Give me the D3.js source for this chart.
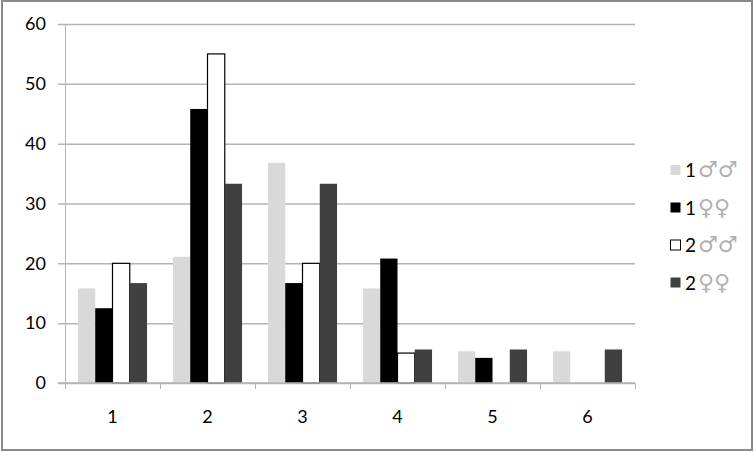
<!DOCTYPE html>
<html>
<head>
<meta charset="utf-8">
<script src="https://cdn.jsdelivr.net/npm/d3@7"></script>
<style>
  body { margin: 0; background: #fff; }
  text { font-family: Lato, "Open Sans", sans-serif; }
</style>
</head>
<body>
<div class="chart"></div>
<script>
// bar chart, 6 classes x 4 groups (percent)
var width = 754;
var height = 452;

var categories = ["1", "2", "3", "4", "5", "6"];
var seriesNames = ["1", "1", "2", "2"];
var seriesSymbols = ["\u2642\u2642", "\u2640\u2640", "\u2642\u2642", "\u2640\u2640"];
var seriesColors = ["#d9d9d9", "#000000", "#ffffff", "#404040"];

var s1Males = [15.8, 21.1, 36.8, 15.8, 5.3, 5.3];
var s1Females = [12.5, 45.8, 16.7, 20.8, 4.2, 0];
var s2Males = [20, 55, 20, 5, 0, 0];
var s2Females = [16.7, 33.3, 33.3, 5.6, 5.6, 5.6];
var yTicks = [0, 10, 20, 30, 40, 50, 60];

var series = [s1Males, s1Females, s2Males, s2Females];

var plotLeft = 65, plotRight = 635, plotTop = 24, plotBottom = 383;

var svg = d3.select(".chart")
    .append("svg")
    .attr("width", width)
    .attr("height", height);

// outer frame
svg.append("rect")
    .attr("x", 2)
    .attr("y", 1)
    .attr("width", 750)
    .attr("height", 449)
    .style("fill", "none")
    .style("stroke", "#8a8a8a")
    .style("stroke-width", 2);

var x = d3.scaleBand()
    .domain(categories)
    .range([plotLeft, plotRight]);

// gap width 150% like excel
var barW = x.bandwidth() / (series.length + 1.5);
var gap = (x.bandwidth() - barW * series.length) / 2;

var y = d3.scaleLinear()
    .domain([0, 60])
    .range([plotBottom, plotTop]);

// gridlines + y axis
var yAxis = d3.axisLeft(y)
    .tickValues(yTicks)
    .tickSize(-(plotRight - plotLeft))
    .tickSizeOuter(0)
    .tickPadding(19);

var gy = svg.append("g")
    .attr("transform", "translate(" + plotLeft + ",0)")
    .call(yAxis);
gy.select(".domain").remove();
gy.selectAll(".tick line")
    .attr("x1", -7)
    .style("stroke", "#b4b4b4")
    .style("stroke-width", 1.5);
gy.selectAll(".tick text")
    .style("font-size", "18px")
    .style("fill", "#000");

svg.append("line")
    .attr("x1", plotLeft + 0.5).attr("x2", plotLeft + 0.5)
    .attr("y1", plotTop).attr("y2", plotBottom)
    .style("stroke", "#b4b4b4")
    .style("stroke-width", 1);

// bars
series.forEach(function (vals, si) {
    var rows = [];
    for (var i = 0; i < vals.length; i++) {
        if (vals[i] > 0) rows.push({ cat: categories[i], value: vals[i] });
    }
    svg.append("g")
        .selectAll("rect")
        .data(rows)
        .enter()
        .append("rect")
        .attr("x", function (d) { return x(d.cat) + gap + si * barW; })
        .attr("y", function (d) { return y(d.value); })
        .attr("width", barW)
        .attr("height", function (d) { return plotBottom - y(d.value); })
        .style("fill", seriesColors[si])
        .style("stroke", si == 2 ? "#000" : "none")
        .style("stroke-width", si == 2 ? 1.2 : 0);
});

// x axis
var xAxis = d3.axisBottom(x)
    .tickSize(0)
    .tickPadding(27);

var gx = svg.append("g")
    .attr("transform", "translate(0," + plotBottom + ")")
    .call(xAxis);
gx.select(".domain").remove();
gx.selectAll(".tick text")
    .style("font-size", "18px")
    .style("fill", "#000");

svg.append("line")
    .attr("x1", plotLeft - 7).attr("x2", plotRight)
    .attr("y1", plotBottom).attr("y2", plotBottom)
    .style("stroke", "#b4b4b4")
    .style("stroke-width", 1.5);

var bounds = categories.map(function (c) { return x(c); }).concat([plotRight]);
svg.append("g")
    .selectAll("line")
    .data(bounds)
    .enter()
    .append("line")
    .attr("x1", function (d) { return d + 0.5; })
    .attr("x2", function (d) { return d + 0.5; })
    .attr("y1", plotBottom)
    .attr("y2", plotBottom + 6)
    .style("stroke", "#b4b4b4")
    .style("stroke-width", 1);

// legend
var legend = svg.append("g")
    .attr("transform", "translate(670,170)");

var item = legend.selectAll("g")
    .data(seriesNames)
    .enter()
    .append("g")
    .attr("transform", function (d, i) { return "translate(0," + (i * 37.5) + ")"; });

item.append("rect")
    .attr("x", 0.5)
    .attr("y", -5)
    .attr("width", 10)
    .attr("height", 10)
    .style("fill", function (d, i) { return seriesColors[i]; })
    .style("stroke", function (d, i) { return i == 2 ? "#000" : "none"; });

item.append("text")
    .attr("x", 15)
    .attr("y", 7)
    .style("font-size", "19px")
    .style("fill", "#000")
    .text(function (d) { return d; });

item.append("text")
    .attr("x", 28)
    .attr("y", 7)
    .style("font-size", "22px")
    .style("fill", "#b0b0b0")
    .style("font-family", "DejaVu Sans")
    .text(function (d, i) { return seriesSymbols[i]; });
</script>
</body>
</html>
